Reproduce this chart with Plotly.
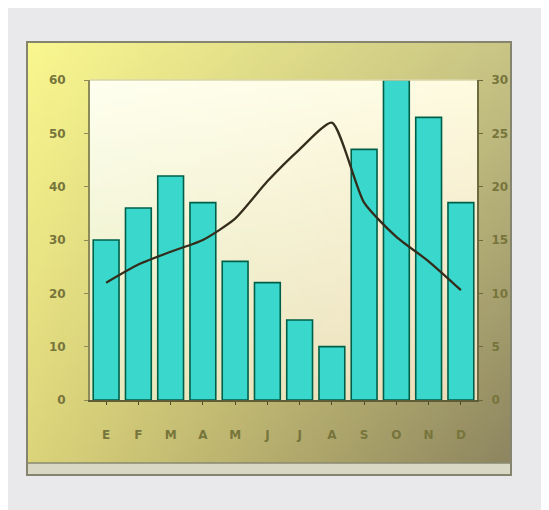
import base64, struct, zlib
import plotly.graph_objects as go

months = ["E", "F", "M", "A", "M", "J", "J", "A", "S", "O", "N", "D"]
precip = [30, 36, 42, 37, 26, 22, 15, 10, 47, 60, 53, 37]
temp = [11, 12.7, 13.9, 15, 17, 20.5, 23.5, 26, 18.5, 15.3, 13, 10.3]
left_ticks = [0, 10, 20, 30, 40, 50, 60]
right_ticks = [0, 5, 10, 15, 20, 25, 30]

W, H = 549, 510
OFF = 8  # page body margin


def hex2rgb(h):
    h = h.lstrip("#")
    return tuple(int(h[i:i + 2], 16) for i in (0, 2, 4))


def gradient_png(tl, tr, bl, br, n=64):
    c = [hex2rgb(x) for x in (tl, tr, bl, br)]
    rows = b""
    for j in range(n):
        v = j / (n - 1)
        row = b"\x00"
        for i in range(n):
            u = i / (n - 1)
            px = []
            for k in range(3):
                top = c[0][k] * (1 - u) + c[1][k] * u
                bot = c[2][k] * (1 - u) + c[3][k] * u
                px.append(int(round(top * (1 - v) + bot * v)))
            row += bytes(px)
        rows += row

    def chunk(t, d):
        return struct.pack(">I", len(d)) + t + d + struct.pack(">I", zlib.crc32(t + d) & 0xffffffff)

    png = b"\x89PNG\r\n\x1a\n" + chunk(b"IHDR", struct.pack(">IIBBBBB", n, n, 8, 2, 0, 0, 0)) \
        + chunk(b"IDAT", zlib.compress(rows)) + chunk(b"IEND", b"")
    return "data:image/png;base64," + base64.b64encode(png).decode()


# plot area in screen pixels, converted to figure pixels
L, R, T, B = 90 - OFF, 477 - OFF, 80 - OFF, 400 - OFF
x = list(range(12))


def to_paper_x(xp):
    return (xp - OFF - L) / (R - L)


def to_paper_y(yp):
    return (B - (yp - OFF)) / (B - T)


fig = go.Figure()
fig.add_trace(go.Bar(x=x, y=precip, width=0.8,
                     marker=dict(color="#3ad8cc", line=dict(color="#005f48", width=1.6)),
                     yaxis="y", showlegend=False))
fig.add_trace(go.Scatter(x=x, y=temp, mode="lines",
                         line=dict(color="#352d1c", width=2.3, shape="spline", smoothing=0.6),
                         yaxis="y2", showlegend=False))

panel = gradient_png("#f9f78f", "#c9c585", "#dcd47a", "#8e8660")
plotbg = gradient_png("#fffff0", "#fdfbe0", "#e6ebbd", "#efdcbc")

fig.update_layout(
    width=W, height=H,
    margin=dict(l=L, r=W - R, t=T, b=H - B),
    paper_bgcolor="#e9e9eb",
    plot_bgcolor="rgba(0,0,0,0)",
    font=dict(family="DejaVu Sans", size=12, color="#77753c"),
)

fig.add_layout_image(dict(source=panel, xref="paper", yref="paper",
                          x=to_paper_x(27), y=to_paper_y(42),
                          sizex=(511 - 27) / (R - L), sizey=(463 - 42) / (B - T),
                          sizing="stretch", layer="below", xanchor="left", yanchor="top"))
fig.add_layout_image(dict(source=plotbg, xref="paper", yref="paper",
                          x=0, y=1, sizex=1, sizey=1,
                          sizing="stretch", layer="below", xanchor="left", yanchor="top"))

# bottom light strip and frame
fig.add_shape(type="rect", xref="paper", yref="paper",
              x0=to_paper_x(27), x1=to_paper_x(511), y0=to_paper_y(475), y1=to_paper_y(463),
              fillcolor="#d8d8c4", line=dict(width=0), layer="below")
fig.add_shape(type="rect", xref="paper", yref="paper",
              x0=to_paper_x(27), x1=to_paper_x(511), y0=to_paper_y(475), y1=to_paper_y(42),
              fillcolor="rgba(0,0,0,0)", line=dict(color="#85856f", width=2), layer="below")
fig.add_shape(type="line", xref="paper", yref="paper",
              x0=to_paper_x(28), x1=to_paper_x(510), y0=to_paper_y(463), y1=to_paper_y(463),
              line=dict(color="#8a8a70", width=1.5), layer="below")
# top edge of plot area
fig.add_shape(type="line", xref="paper", yref="paper", x0=0, x1=1, y0=1, y1=1,
              line=dict(color="#d8d6a8", width=1.5))

tickfont = dict(family="DejaVu Sans", size=12, color="#77753c", weight="bold")
fig.update_xaxes(range=[-0.5, 11.5], tickvals=x, ticktext=months, showgrid=False,
                 showline=True, linecolor="#5f5d38", linewidth=2, ticks="outside", ticklen=3,
                 tickcolor="#4a4a28", ticklabelstandoff=20, zeroline=False, tickfont=tickfont)
fig.update_layout(
    yaxis=dict(range=[0, 60], tickvals=left_ticks, showgrid=False, zeroline=False,
               showline=True, linecolor="#8c8a58", linewidth=2, ticks="outside", ticklen=4,
               tickcolor="#8c8a58", ticklabelstandoff=16, tickfont=tickfont),
    yaxis2=dict(range=[0, 30], tickvals=right_ticks, overlaying="y", side="right", showgrid=False,
                zeroline=False, showline=True, linecolor="#6e6a40", linewidth=2, ticks="outside",
                ticklen=4, tickcolor="#6e6a40", ticklabelstandoff=6, tickfont=tickfont),
)

fig.write_html("out.html")
